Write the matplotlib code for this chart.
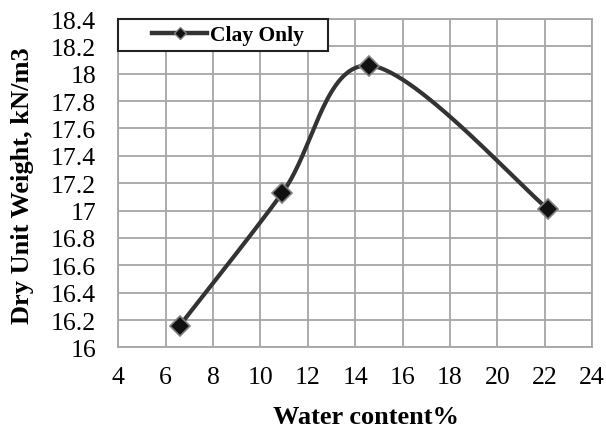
import numpy as np
import matplotlib.pyplot as plt
from matplotlib.lines import Line2D
from matplotlib.patches import Rectangle

# data
water = [6.6, 10.93, 14.6, 22.15]
dry_weight = [16.16, 17.13, 18.06, 17.01]
x_ticks = list(range(4, 25, 2))
y_ticks = [16 + 0.2 * i for i in range(13)]

plt.rcParams['font.family'] = ['Liberation Serif', 'DejaVu Serif']


def excel_smooth(ax, xs, ys, n=60):
    """Excel style smoothed line: Bezier segments, control points 1/6 of neighbour span (screen space)."""
    pts = ax.transData.transform(np.column_stack([xs, ys]))
    p = np.vstack([pts[0], pts, pts[-1]])
    out = []
    t = np.linspace(0, 1, n)[:, None]
    for i in range(1, len(p) - 2):
        p0, p3 = p[i], p[i + 1]
        c1 = p0 + (p[i + 1] - p[i - 1]) / 6.0
        c2 = p3 - (p[i + 2] - p[i]) / 6.0
        seg = (1 - t) ** 3 * p0 + 3 * (1 - t) ** 2 * t * c1 + 3 * (1 - t) * t ** 2 * c2 + t ** 3 * p3
        out.append(seg)
    curve = np.vstack(out)
    return ax.transData.inverted().transform(curve)


fig = plt.figure(figsize=(6.06, 4.35), dpi=100)
ax = fig.add_axes([0.195, 0.199, 0.782, 0.755])
ax.set_xlim(4, 24)
ax.set_ylim(16, 18.4)
ax.set_xticks(x_ticks)
ax.set_yticks(y_ticks)
ax.set_yticklabels(['%g' % round(v, 1) for v in y_ticks])
ax.grid(True, color='#a6a6a6', linewidth=1.3)
ax.set_axisbelow(True)
for s in ax.spines.values():
    s.set_color('#a6a6a6')
    s.set_linewidth(1.3)
ax.tick_params(length=0, labelsize=18.5)
ax.tick_params(axis='x', pad=13.5)
ax.tick_params(axis='y', pad=16)

curve = excel_smooth(ax, water, dry_weight)
ax.plot(curve[:, 0], curve[:, 1], color='#333333', linewidth=3.0, solid_capstyle='round', zorder=3)
ax.plot(water, dry_weight, linestyle='none', marker='D', markersize=10,
        markerfacecolor='#111111', markeredgecolor='#808080', markeredgewidth=1.2, zorder=4)

ax.set_xlabel('Water content%', fontsize=19, fontweight='bold')
ax.xaxis.set_label_coords(0.523, -0.175)
ax.set_ylabel('Dry Unit Weight, kN/m3', fontsize=19, fontweight='bold')
ax.yaxis.set_label_coords(-0.178, 0.497)

# legend box like Excel's, wider than the entry
ax.add_patch(Rectangle((0.0, 0.902), 0.443, 0.098, transform=ax.transAxes,
                       facecolor='white', edgecolor='#222222', linewidth=1.5, zorder=5, clip_on=False))
handle = Line2D([], [], color='#333333', linewidth=3.2, marker='D', markersize=6,
                markerfacecolor='#111111', markeredgecolor='#808080')
leg = ax.legend([handle], ['Clay Only'], loc='center left', bbox_to_anchor=(0.072, 0.951),
                borderaxespad=0, borderpad=0, frameon=False,
                prop={'weight': 'bold', 'size': 15.5}, handlelength=2.55, handletextpad=0.15)
leg.set_zorder(6)

fig.savefig('out.png', dpi=100)
